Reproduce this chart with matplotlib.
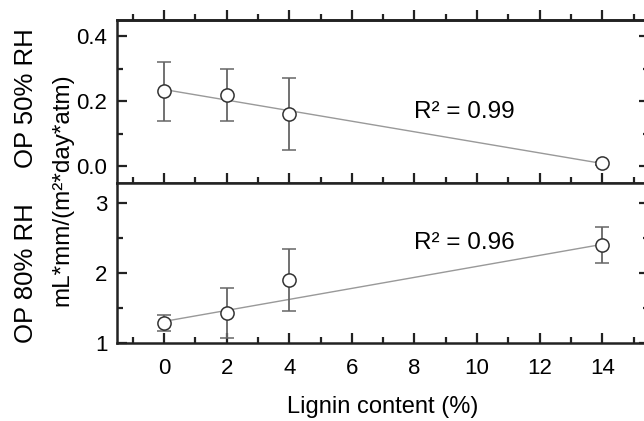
import matplotlib
matplotlib.use("Agg")
import matplotlib.pyplot as plt
from matplotlib.ticker import MultipleLocator

plt.rcParams["font.family"] = ["Liberation Sans", "DejaVu Sans"]

# lignin content (%)
lignin = [0, 2, 4, 14]

# OP at 50% RH
op50 = [0.23, 0.22, 0.16, 0.01]
op50_err = [0.09, 0.08, 0.11, 0.005]
fit50_x = [0, 14]
fit50_y = [0.236, 0.009]

# OP at 80% RH
op80 = [1.29, 1.43, 1.90, 2.40]
op80_err = [0.11, 0.35, 0.44, 0.26]
fit80_x = [0, 14]
fit80_y = [1.31, 2.41]

r2_labels = ["R² = 0.99", "R² = 0.96"]

fig = plt.figure(figsize=(6.44, 4.21), dpi=100)
ax1 = fig.add_axes((0.182, 0.566, 0.826, 0.387))
ax2 = fig.add_axes((0.182, 0.185, 0.826, 0.381))

marker_kw = dict(fmt="o", ms=9.5, mfc="white", mec="#333333", mew=1.1,
                 ecolor="#666666", elinewidth=1.3, capsize=5, capthick=1.3,
                 zorder=3)

ax1.plot(fit50_x, fit50_y, color="#999999", lw=1.0, zorder=2)
ax1.errorbar(lignin, op50, yerr=op50_err, **marker_kw)
ax2.plot(fit80_x, fit80_y, color="#999999", lw=1.0, zorder=2)
ax2.errorbar(lignin, op80, yerr=op80_err, **marker_kw)

ax1.text(8.0, 0.167, r2_labels[0], fontsize=17.5, va="center", ha="left")
ax2.text(8.0, 2.43, r2_labels[1], fontsize=17.5, va="center", ha="left")

for ax in (ax1, ax2):
    ax.set_xlim(-1.5, 15.5)
    ax.xaxis.set_major_locator(MultipleLocator(2))
    ax.xaxis.set_minor_locator(MultipleLocator(1))
    for s in ax.spines.values():
        s.set_linewidth(1.8)
        s.set_color("#222222")
    ax.tick_params(which="both", direction="in", left=True, right=True,
                   top=False, bottom=True, width=1.6, color="#222222",
                   labelsize=16)
    ax.tick_params(which="major", length=7)
    ax.tick_params(which="minor", length=4)
    ax.tick_params(axis="y", pad=7)

ax1.set_ylim(-0.05, 0.45)
ax1.yaxis.set_major_locator(MultipleLocator(0.2))
ax1.yaxis.set_minor_locator(MultipleLocator(0.1))
ax1.yaxis.set_major_formatter("{x:.1f}")
ax1.tick_params(axis="x", labelbottom=False)

# ticks above the top frame point outward
top = ax1.secondary_xaxis("top")
top.xaxis.set_major_locator(MultipleLocator(2))
top.xaxis.set_minor_locator(MultipleLocator(1))
top.tick_params(which="both", direction="out", width=1.6, color="#222222",
                labeltop=False)
top.tick_params(which="major", length=7)
top.tick_params(which="minor", length=4)
top.spines["top"].set_linewidth(1.8)

ax2.set_ylim(1.0, 3.29)
ax2.yaxis.set_major_locator(MultipleLocator(1))
ax2.yaxis.set_minor_locator(MultipleLocator(0.5))
ax2.tick_params(axis="x", pad=11)

ax2.set_xlabel("Lignin content (%)", fontsize=17, labelpad=12)

fig.text(0.040, 0.767, "OP 50% RH", rotation=90, fontsize=18.5,
         ha="center", va="center")
fig.text(0.040, 0.352, "OP 80% RH", rotation=90, fontsize=18.5,
         ha="center", va="center")
fig.text(0.097, 0.549, "mL*mm/(m²*day*atm)", rotation=90, fontsize=17.5,
         ha="center", va="center")

fig.savefig("out.png", dpi=100)
